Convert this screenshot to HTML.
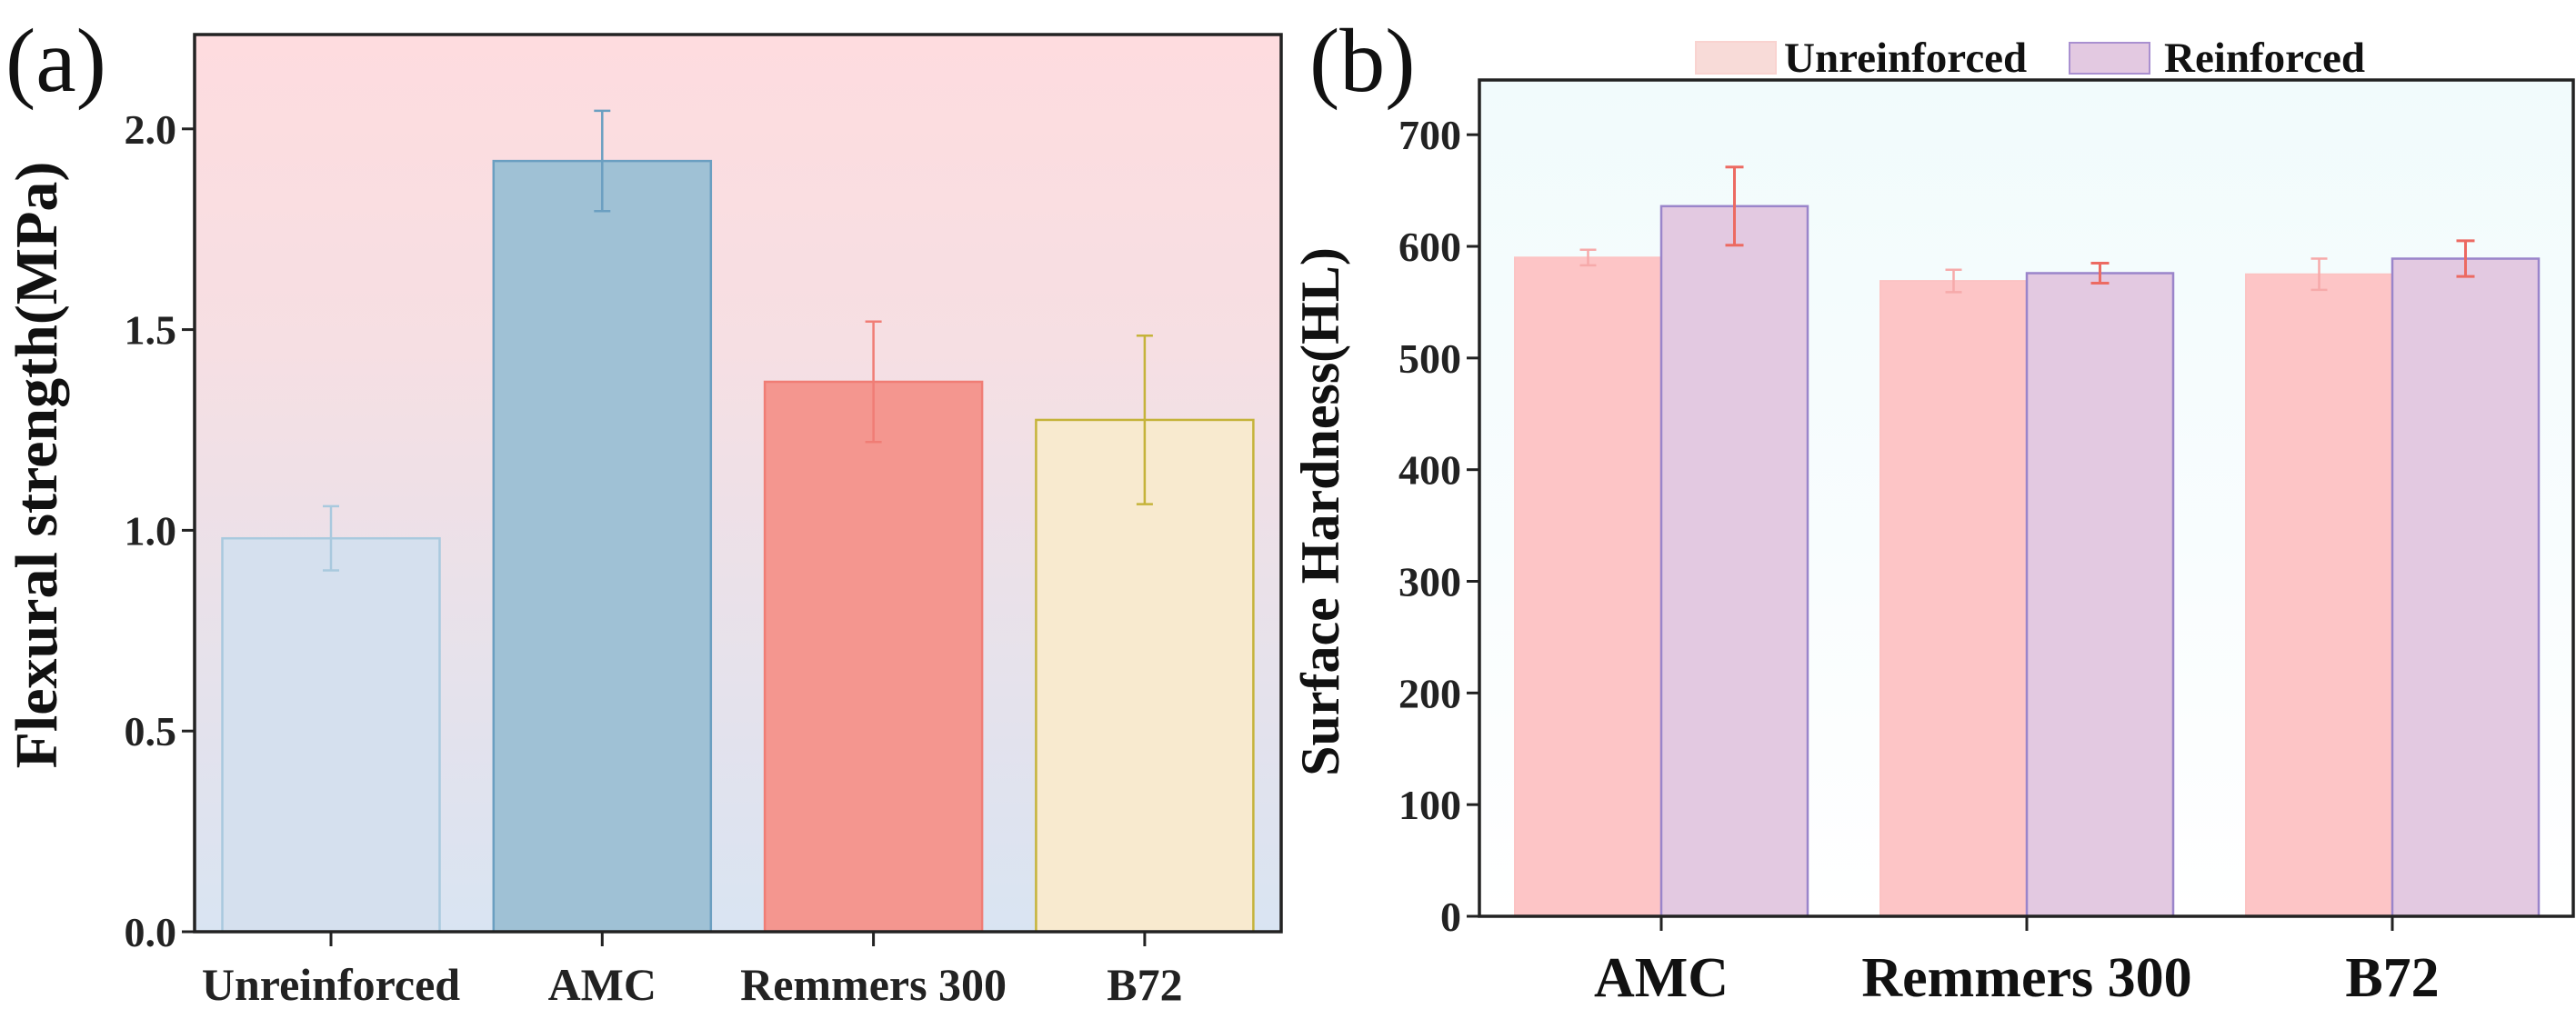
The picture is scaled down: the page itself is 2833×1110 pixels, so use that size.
<!DOCTYPE html>
<html><head><meta charset="utf-8"><style>
html,body{margin:0;padding:0;background:#fff;}
svg{display:block;font-family:"Liberation Serif",serif;}
</style></head><body>
<svg id="chart" width="2833" height="1110" viewBox="0 0 2833 1110">
<defs>
<linearGradient id="gA" x1="0" y1="0" x2="0" y2="1"><stop offset="0" stop-color="#fedcdf"/><stop offset="0.35" stop-color="#f6dfe3"/><stop offset="1" stop-color="#d9e4f2"/></linearGradient>
<linearGradient id="gB" x1="0" y1="0" x2="0" y2="1"><stop offset="0" stop-color="#f1fbfc"/><stop offset="0.6" stop-color="#f9fdfe"/><stop offset="1" stop-color="#ffffff"/></linearGradient>
</defs>
<g id="panelA"></g>
<g id="panelB"></g>
</svg>
<script>
const aCategories = ["Unreinforced","AMC","Remmers 300","B72"];
const aValues = [0.98,1.92,1.37,1.275];
const aErrors = [0.08,0.125,0.15,0.21];
const aTicks = [0,0.5,1.0,1.5,2.0];
const aTickLabels = ["0.0","0.5","1.0","1.5","2.0"];
const bCategories = ["AMC","Remmers 300","B72"];
const bUnreinforced = [590,569,575];
const bUnreinforcedErr = [7,10,14];
const bReinforced = [636,576,589];
const bReinforcedErr = [35,9,16];
const bTicks = [0,100,200,300,400,500,600,700];
const bTickLabels = ["0","100","200","300","400","500","600","700"];

const NS="http://www.w3.org/2000/svg";
function mk(parent,tag,attrs,text){const e=document.createElementNS(NS,tag);for(const k in attrs)e.setAttribute(k,attrs[k]);if(text!==undefined)e.textContent=text;parent.appendChild(e);return e;}

// Panel A
(function(){
const g=document.getElementById('panelA');
const L=214,R=1409,T=38,B=1025,ymax=2.235;
const y=v=>B-(v/ymax)*(B-T);
const step=298.3,x0=L+150,bw=239;
const xc=i=>x0+i*step;
const fills=["#d5e0ee","#9fc1d5","#f4968f","#f8eacf"];
const strokes=["#a9c9de","#6b9fc1","#f07d75","#c5b33a"];
const bg=mk(g,'rect',{x:L,y:T,width:R-L,height:B-T,fill:'url(#gA)'});

aValues.forEach((v,i)=>{
 const r=mk(g,'rect',{x:xc(i)-bw/2,y:y(v),width:bw,height:B-y(v),fill:fills[i],stroke:strokes[i],'stroke-width':2.5});
 
 
 const e=aErrors[i];
 const eb=mk(g,'path',{d:`M${xc(i)} ${y(v+e)}V${y(v-e)}M${xc(i)-9} ${y(v+e)}h18M${xc(i)-9} ${y(v-e)}h18`,stroke:strokes[i],'stroke-width':2.5,fill:'none'});
 
 const tk=mk(g,'line',{x1:xc(i),x2:xc(i),y1:B,y2:B+16,stroke:'#222','stroke-width':3});
 
 const t=mk(g,'text',{x:xc(i),y:B+75,'text-anchor':'middle','font-size':50,'font-weight':'bold',fill:'#222'},aCategories[i]);
 
});
aTicks.forEach((v,i)=>{
 const tk=mk(g,'line',{x1:L-14,x2:L,y1:y(v),y2:y(v),stroke:'#222','stroke-width':3});
 
 const t=mk(g,'text',{x:L-20,y:y(v)+16,'text-anchor':'end','font-size':46,'font-weight':'bold',fill:'#222'},aTickLabels[i]);
 
});
const fr=mk(g,'rect',{x:L,y:T,width:R-L,height:B-T,fill:'none',stroke:'#222','stroke-width':3.5});

const yt=mk(g,'text',{x:0,y:0,transform:`translate(62,${(T+B)/2-20}) rotate(-90)`,'text-anchor':'middle','font-size':66,'font-weight':'bold',fill:'#111'},'Flexural strength(MPa)');

const pl=mk(g,'text',{x:6,y:100,'font-size':100,fill:'#111'},'(a)');

})();

// Panel B
(function(){
const g=document.getElementById('panelB');
const L=1627,R=2830,T=88,B=1008,ymax=749;
const y=v=>B-(v/ymax)*(B-T);
const step=402,x0=L+200,bw=161;
const xc=i=>x0+i*step;
const bg=mk(g,'rect',{x:L,y:T,width:R-L,height:B-T,fill:'url(#gB)'});

bCategories.forEach((c,i)=>{
 const slug=c.toLowerCase().replace(/\s+/g,'-');
 const v1=bUnreinforced[i],e1=bUnreinforcedErr[i],v2=bReinforced[i],e2=bReinforcedErr[i];
 const cx1=xc(i)-bw/2,cx2=xc(i)+bw/2;
 const r1=mk(g,'rect',{x:xc(i)-bw,y:y(v1),width:bw,height:B-y(v1),fill:'#fdc5c6',stroke:'#fcc3c3','stroke-width':2});
 
 const eb1=mk(g,'path',{d:`M${cx1} ${y(v1+e1)}V${y(v1-e1)}M${cx1-9} ${y(v1+e1)}h18M${cx1-9} ${y(v1-e1)}h18`,stroke:'#f6aaaa','stroke-width':2.5,fill:'none'});
 
 const r2=mk(g,'rect',{x:xc(i),y:y(v2),width:bw,height:B-y(v2),fill:'#e3c9e1',stroke:'#9a85ca','stroke-width':2.5});
 
 const eb2=mk(g,'path',{d:`M${cx2} ${y(v2+e2)}V${y(v2-e2)}M${cx2-10} ${y(v2+e2)}h20M${cx2-10} ${y(v2-e2)}h20`,stroke:'#ec6a62','stroke-width':3,fill:'none'});
 
 const tk=mk(g,'line',{x1:xc(i),x2:xc(i),y1:B,y2:B+16,stroke:'#222','stroke-width':3});
 
 const t=mk(g,'text',{x:xc(i),y:B+88,'text-anchor':'middle','font-size':62,'font-weight':'bold',fill:'#111'},c);
 
});
bTicks.forEach((v,i)=>{
 const tk=mk(g,'line',{x1:L-14,x2:L,y1:y(v),y2:y(v),stroke:'#222','stroke-width':3});
 
 const t=mk(g,'text',{x:L-20,y:y(v)+16,'text-anchor':'end','font-size':46,'font-weight':'bold',fill:'#222'},bTickLabels[i]);
 
});
const fr=mk(g,'rect',{x:L,y:T,width:R-L,height:B-T,fill:'none',stroke:'#222','stroke-width':3.5});

const yt=mk(g,'text',{x:0,y:0,transform:`translate(1472,${(T+B)/2+15}) rotate(-90)`,'text-anchor':'middle','font-size':60,'font-weight':'bold',fill:'#111'},'Surface Hardness(HL)');

const pl=mk(g,'text',{x:1440,y:100,'font-size':100,fill:'#111'},'(b)');

const lg=mk(g,'g',{});

const lb1=mk(lg,'rect',{x:1865,y:46,width:88,height:35,fill:'#f8dbd8',stroke:'#f9d3d0','stroke-width':2});

const lt1=mk(lg,'text',{x:1962,y:79,'font-size':47,'font-weight':'bold',fill:'#111'},'Unreinforced');

const lb2=mk(lg,'rect',{x:2276,y:47,width:88,height:34,fill:'#e3c9e1',stroke:'#a990d0','stroke-width':2});

const lt2=mk(lg,'text',{x:2380,y:79,'font-size':47,'font-weight':'bold',fill:'#111'},'Reinforced');

})();
</script>
</body></html>
